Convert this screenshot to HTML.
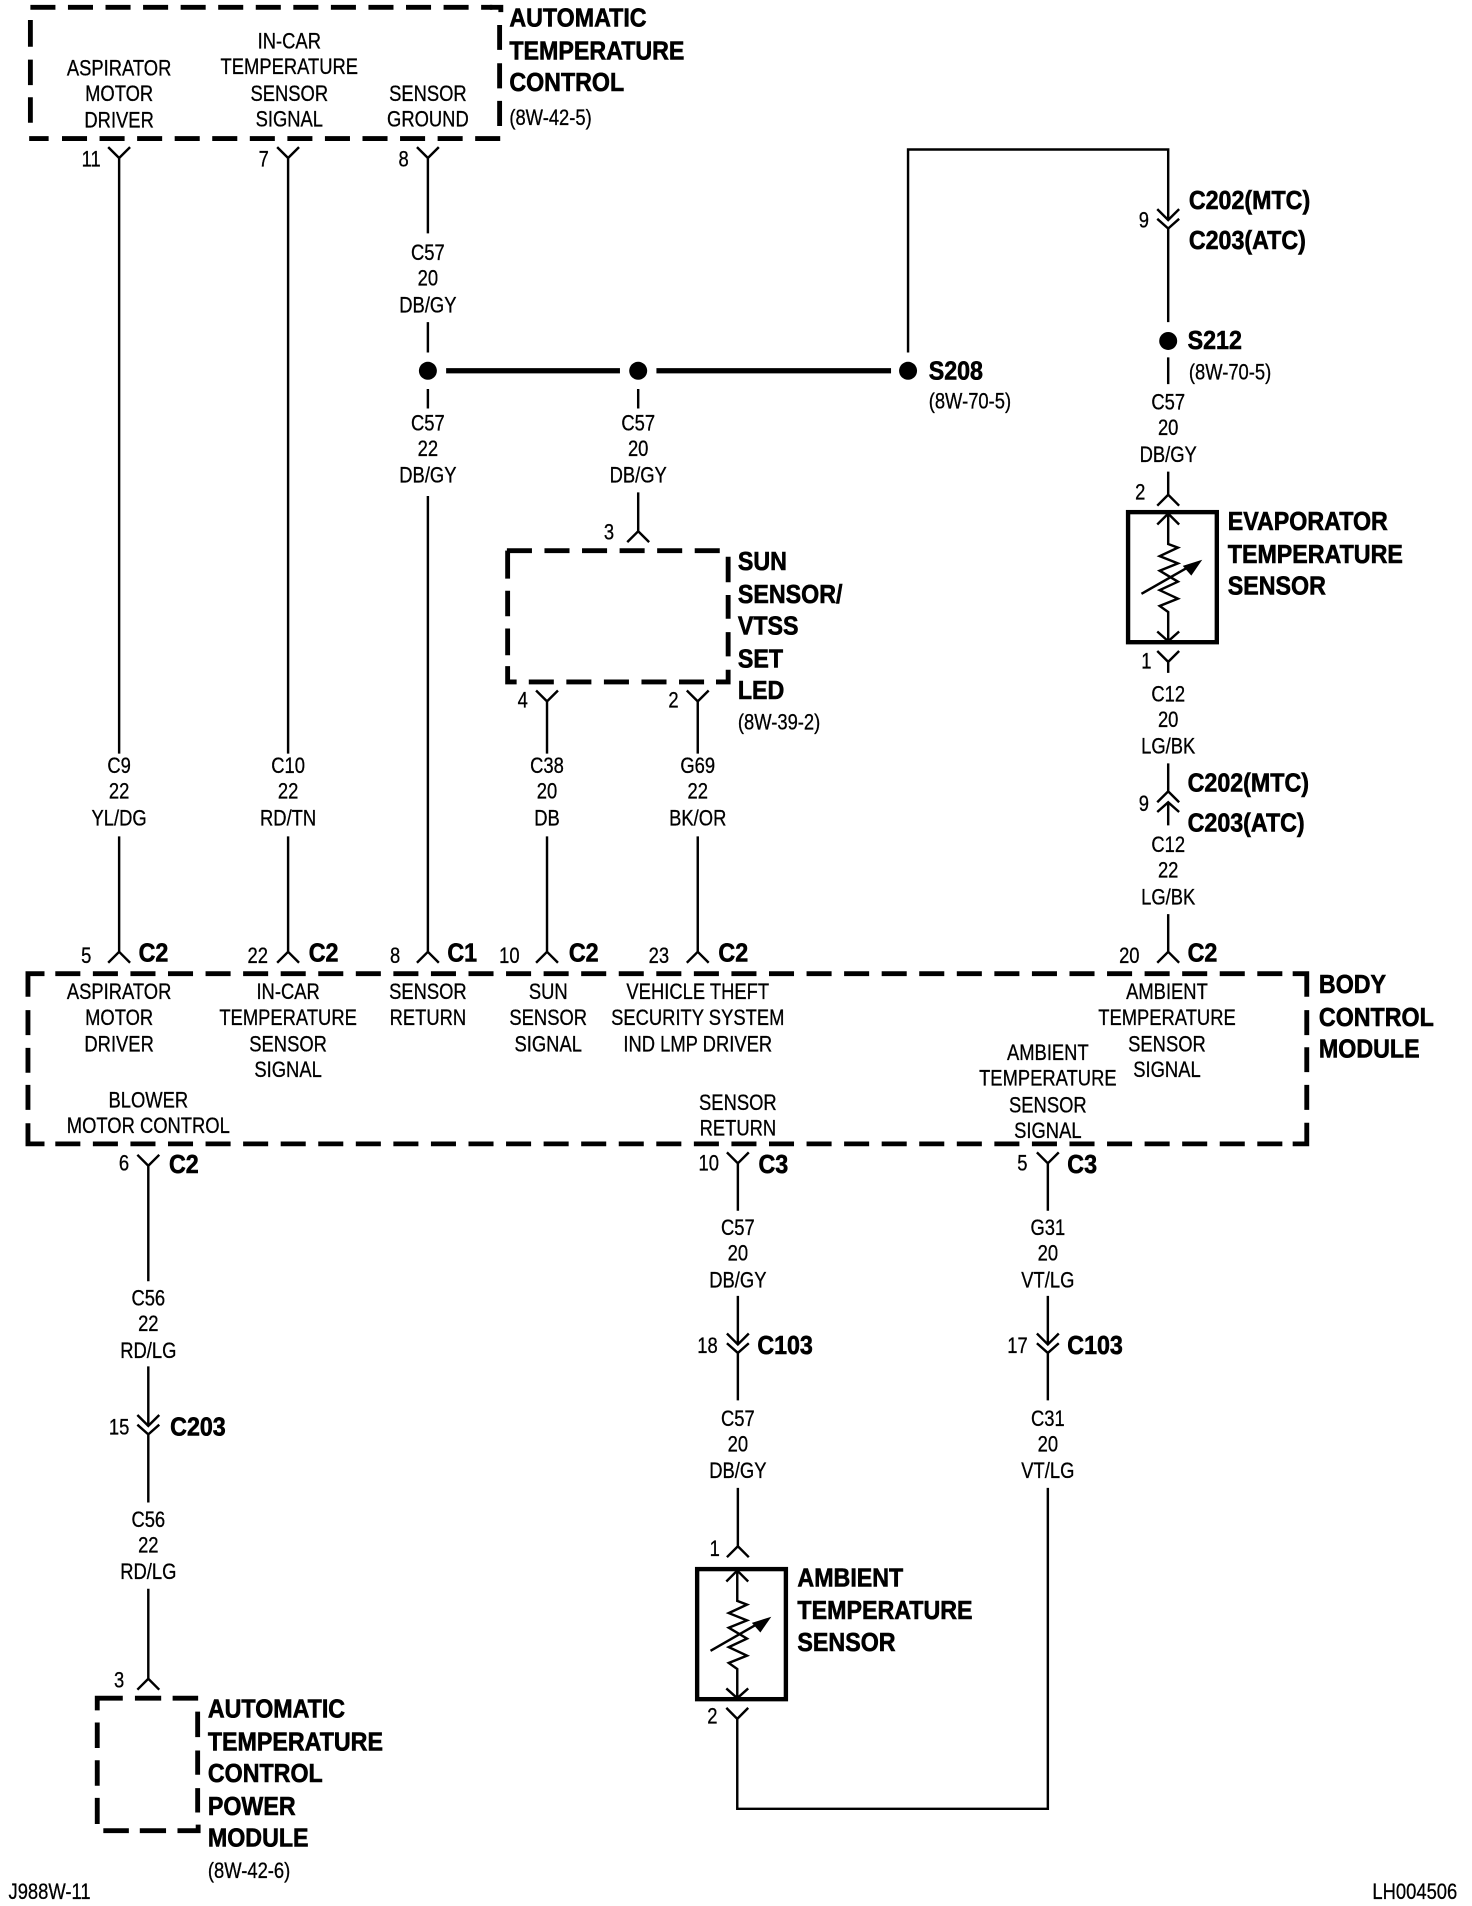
<!DOCTYPE html>
<html><head><meta charset="utf-8"><style>
html,body{margin:0;padding:0;background:#fff;width:1472px;height:1906px;overflow:hidden}
#w{position:absolute;left:0;top:0;width:1211px;height:1568px;transform:scale(1.2156);transform-origin:0 0;font-family:"Liberation Sans",sans-serif;color:#000}
#w svg{position:absolute;left:0;top:0}
.c,.l,.b{position:absolute;white-space:nowrap;margin-top:1px}
.c{width:260px;margin-left:-130px;text-align:center;font-size:18px;line-height:21.4px;transform:scaleX(.84);-webkit-text-stroke:.25px #000}
.l{font-size:18px;line-height:21.4px;transform:scaleX(.84);transform-origin:0 0;-webkit-text-stroke:.25px #000}
.b{font-size:21px;line-height:26.6px;font-weight:bold;transform:scaleX(.91);transform-origin:0 0;-webkit-text-stroke:.5px #000}
.w{fill:none;stroke:#000;stroke-width:2}
.s{fill:none;stroke:#000;stroke-width:4}
.d{fill:none;stroke:#000;stroke-width:4;stroke-dasharray:20.6 10.3}
</style></head><body><div id="w">
<svg width="1211" height="1568" viewBox="0 0 1211 1568">
<!-- ATC top box -->
<path class="d" d="M25 6H405"/>
<path class="s" d="M25 16.500V38.500M25 49V70M25 80V101M403 6H412V10M411 20.600V41M411 52V72.700M411 83V103.700M24 114H40"/>
<path class="d" d="M51 114H412"/>
<!-- BCM -->
<path class="s" d="M36.600 801H23V820M23 831V851.500M23 862V882.500M23 892.500V913M23 924V941H36.600M1063.400 801H1075V820M1075 831V851.500M1075 861.500V882M1075 892.500V913M1075 923.600V941H1063.400"/>
<path class="d" d="M45.500 801H1055M45.500 941H1055"/>
<!-- sun sensor box -->
<path class="d" d="M417 453H593"/>
<path class="s" d="M417.600 453V476M417.600 486V507M417.600 517V539M417.600 548V561H425M599 458V479M599 489.500V509M599 520V540M599 551V561H589"/>
<path class="d" d="M435 561H580"/>
<!-- power module box -->
<path class="s" d="M101 1397H80V1407M111 1397H132.600M142 1397H163M80 1417V1438M80 1448V1469M80 1479V1500.500M85 1506H106M115 1506H136.600M146 1506H163V1501M162.600 1408V1429M162.600 1440V1460M162.600 1471V1491"/>
<!-- top connectors and wires -->
<path class="w" d="M89 121L98 130L107 121M98 130V620M98 688V783M89 792L98 783L107 792"/>
<path class="w" d="M228 121L237 130L246 121M237 130V620M237 688V783M228 792L237 783L246 792"/>
<path class="w" d="M343 121L352 130L361 121M352 130V192M352 265V290M352 320V336M352 408V783M343 792L352 783L361 792"/>
<path class="w" d="M525 320V336M525 405V437M516 446L525 437L534 446"/>
<path class="w" d="M441 568L450 577L459 568M450 577V620M450 688V783M441 792L450 783L459 792"/>
<path class="w" d="M565 568L574 577L583 568M574 577V620M574 688V783M565 792L574 783L583 792"/>
<!-- splice -->
<path d="M367 305H510M540 305H733" stroke="#000" stroke-width="4.4" fill="none"/>
<circle cx="352" cy="305" r="7.4"/><circle cx="525" cy="305" r="7.4"/><circle cx="747" cy="305" r="7.4"/><circle cx="961" cy="280.500" r="7.400"/>
<path class="w" d="M747 290V123H961V181M952 172L961 181L970 172M952 180L961 188L970 180M961 188V265M961 294V316M961 388V407M952 416L961 407L970 416"/>
<!-- evaporator sensor -->
<g transform="translate(961 419.500)">
<rect x="-33" y="1.800" width="73" height="107" fill="none" stroke="#000" stroke-width="3.600"/>
<path class="w" d="M-9 12L0 3L9 12M0 3V28L8 31L-7 38L8 44L-7 50L8 59L-7 66L8 73L-7 79L0 84V108M-9 100L0 108L9 100"/>
<path class="w" d="M-22 69L20 45"/><path d="M28 41L12 46L19 54Z"/>
<path class="w" d="M-9 116L0 125L9 116M0 125V134"/>
</g>
<path class="w" d="M961 628V651M952 660L961 651L970 660M952 668L961 660L970 668M961 660V679M961 752V783M952 792L961 783L970 792"/>
<!-- bottom left -->
<path class="w" d="M113 950L122 959L131 950M122 959V1054M122 1124V1173M113 1164L122 1173L131 1164M113 1172L122 1180L131 1172M122 1180V1236M122 1307V1381M113 1390L122 1381L131 1390"/>
<!-- sensor return -->
<path class="w" d="M598 948L607 957L616 948M607 957V996M607 1066V1106M598 1097L607 1106L616 1097M598 1105L607 1113L616 1105M607 1113V1152M607 1224V1272M598 1281L607 1272L616 1281"/>
<g transform="translate(606.500 1289)">
<rect x="-33" y="1.800" width="73" height="107" fill="none" stroke="#000" stroke-width="3.600"/>
<path class="w" d="M-9 12L0 3L9 12M0 3V28L8 31L-7 38L8 44L-7 50L8 59L-7 66L8 73L-7 79L0 84V108M-9 100L0 108L9 100"/>
<path class="w" d="M-22 69L20 45"/><path d="M28 41L12 46L19 54Z"/>
<path class="w" d="M-9 116L0 125L9 116"/>
</g>
<path class="w" d="M606.500 1414V1488H862V1224M862 1152V1113M853 1105L862 1113L871 1105M853 1097L862 1106L871 1097M862 1106V1066M862 996V957M853 948L862 957L871 948"/>
</svg>

<!-- ATC top -->
<div class="c" style="left:98px;top:45px">ASPIRATOR<br>MOTOR<br>DRIVER</div>
<div class="c" style="left:238px;top:23px">IN-CAR<br>TEMPERATURE<br>SENSOR<br>SIGNAL</div>
<div class="c" style="left:352px;top:66px">SENSOR<br>GROUND</div>
<div class="b" style="left:419px;top:2px">AUTOMATIC<br>TEMPERATURE<br>CONTROL</div>
<div class="l" style="left:419px;top:86px">(8W-42-5)</div>
<div class="c" style="left:75px;top:120px">11</div>
<div class="c" style="left:217px;top:120px">7</div>
<div class="c" style="left:332px;top:120px">8</div>

<!-- wire labels -->
<div class="c" style="left:352px;top:197px">C57<br>20<br>DB/GY</div>
<div class="c" style="left:352px;top:337px">C57<br>22<br>DB/GY</div>
<div class="c" style="left:525px;top:337px">C57<br>20<br>DB/GY</div>
<div class="c" style="left:98px;top:619px">C9<br>22<br>YL/DG</div>
<div class="c" style="left:237px;top:619px">C10<br>22<br>RD/TN</div>
<div class="c" style="left:450px;top:619px">C38<br>20<br>DB</div>
<div class="c" style="left:574px;top:619px">G69<br>22<br>BK/OR</div>
<div class="c" style="left:501px;top:427px">3</div>
<div class="c" style="left:430px;top:565px">4</div>
<div class="c" style="left:554px;top:565px">2</div>
<div class="b" style="left:607px;top:449px">SUN<br>SENSOR/<br>VTSS<br>SET<br>LED</div>
<div class="l" style="left:607px;top:583px">(8W-39-2)</div>

<!-- S208 / S212 -->
<div class="b" style="left:764px;top:292px">S208</div>
<div class="l" style="left:764px;top:319px">(8W-70-5)</div>
<div class="b" style="left:978px;top:152px">C202(MTC)</div>
<div class="b" style="left:978px;top:185px">C203(ATC)</div>
<div class="c" style="left:941px;top:170px">9</div>
<div class="b" style="left:977px;top:267px">S212</div>
<div class="l" style="left:978px;top:295px">(8W-70-5)</div>
<div class="c" style="left:961px;top:320px">C57<br>20<br>DB/GY</div>
<div class="c" style="left:938px;top:394px">2</div>
<div class="b" style="left:1010px;top:416px">EVAPORATOR<br>TEMPERATURE<br>SENSOR</div>
<div class="c" style="left:943px;top:533px">1</div>
<div class="c" style="left:961px;top:560px">C12<br>20<br>LG/BK</div>
<div class="b" style="left:977px;top:631px">C202(MTC)</div>
<div class="b" style="left:977px;top:664px">C203(ATC)</div>
<div class="c" style="left:941px;top:650px">9</div>
<div class="c" style="left:961px;top:684px">C12<br>22<br>LG/BK</div>

<!-- BCM pins -->
<div class="c" style="left:71px;top:775px">5</div><div class="b" style="left:114px;top:771px">C2</div>
<div class="c" style="left:212px;top:775px">22</div><div class="b" style="left:254px;top:771px">C2</div>
<div class="c" style="left:325px;top:775px">8</div><div class="b" style="left:368px;top:771px">C1</div>
<div class="c" style="left:419px;top:775px">10</div><div class="b" style="left:468px;top:771px">C2</div>
<div class="c" style="left:542px;top:775px">23</div><div class="b" style="left:591px;top:771px">C2</div>
<div class="c" style="left:929px;top:775px">20</div><div class="b" style="left:977px;top:771px">C2</div>

<div class="c" style="left:98px;top:805px">ASPIRATOR<br>MOTOR<br>DRIVER</div>
<div class="c" style="left:237px;top:805px">IN-CAR<br>TEMPERATURE<br>SENSOR<br>SIGNAL</div>
<div class="c" style="left:352px;top:805px">SENSOR<br>RETURN</div>
<div class="c" style="left:451px;top:805px">SUN<br>SENSOR<br>SIGNAL</div>
<div class="c" style="left:574px;top:805px">VEHICLE THEFT<br>SECURITY SYSTEM<br>IND LMP DRIVER</div>
<div class="c" style="left:960px;top:805px">AMBIENT<br>TEMPERATURE<br>SENSOR<br>SIGNAL</div>
<div class="c" style="left:862px;top:855px">AMBIENT<br>TEMPERATURE<br>SENSOR<br>SIGNAL</div>
<div class="c" style="left:122px;top:894px">BLOWER<br>MOTOR CONTROL</div>
<div class="c" style="left:607px;top:896px">SENSOR<br>RETURN</div>
<div class="b" style="left:1085px;top:797px">BODY<br>CONTROL<br>MODULE</div>

<!-- lower -->
<div class="c" style="left:102px;top:946px">6</div><div class="b" style="left:139px;top:945px">C2</div>
<div class="c" style="left:583px;top:946px">10</div><div class="b" style="left:624px;top:945px">C3</div>
<div class="c" style="left:841px;top:946px">5</div><div class="b" style="left:878px;top:945px">C3</div>
<div class="c" style="left:122px;top:1057px">C56<br>22<br>RD/LG</div>
<div class="c" style="left:98px;top:1163px">15</div><div class="b" style="left:140px;top:1161px">C203</div>
<div class="c" style="left:122px;top:1239px">C56<br>22<br>RD/LG</div>
<div class="c" style="left:98px;top:1371px">3</div>
<div class="b" style="left:171px;top:1393px">AUTOMATIC<br>TEMPERATURE<br>CONTROL<br>POWER<br>MODULE</div>
<div class="l" style="left:171px;top:1528px">(8W-42-6)</div>

<div class="c" style="left:607px;top:999px">C57<br>20<br>DB/GY</div>
<div class="c" style="left:582px;top:1096px">18</div><div class="b" style="left:623px;top:1094px">C103</div>
<div class="c" style="left:607px;top:1156px">C57<br>20<br>DB/GY</div>
<div class="c" style="left:588px;top:1263px">1</div>
<div class="c" style="left:586px;top:1401px">2</div>
<div class="b" style="left:656px;top:1285px">AMBIENT<br>TEMPERATURE<br>SENSOR</div>

<div class="c" style="left:862px;top:999px">G31<br>20<br>VT/LG</div>
<div class="c" style="left:837px;top:1096px">17</div><div class="b" style="left:878px;top:1094px">C103</div>
<div class="c" style="left:862px;top:1156px">C31<br>20<br>VT/LG</div>

<div class="l" style="left:7px;top:1545px">J988W-11</div>
<div class="l" style="left:1129px;top:1545px">LH004506</div>
</div></body></html>
